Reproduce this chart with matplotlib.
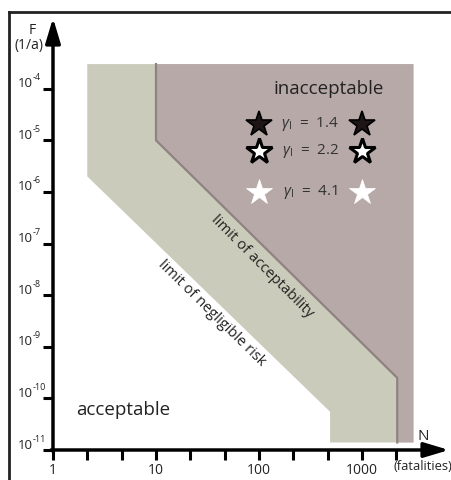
import numpy as np
import matplotlib
matplotlib.use("Agg")
import matplotlib.pyplot as plt
import matplotlib.transforms as mtransforms
from matplotlib.lines import Line2D

plt.rcParams['font.family'] = ['Open Sans', 'DejaVu Sans']
plt.rcParams['mathtext.fontset'] = 'custom'
plt.rcParams['mathtext.rm'] = 'Open Sans'
plt.rcParams['mathtext.it'] = 'Open Sans:italic'

# F-N diagram regions (N = fatalities, F = frequency per year)
band_N = [2.15, 2.15, 490, 490, 3160, 3160]
band_F = [3e-4, 2e-6, 5.5e-11, 1.4e-11, 1.4e-11, 3e-4]

unacc_N = [10, 10, 2200, 2200, 3160, 3160]
unacc_F = [3e-4, 1e-5, 2.5e-10, 1.4e-11, 1.4e-11, 3e-4]

limit_N = [10, 10, 2200, 2200]
limit_F = [3e-4, 1e-5, 2.5e-10, 1.4e-11]

# safety factor markers
gamma_vals = ["1.4", "2.2", "4.1"]
gamma_F = [2.1e-5, 6.2e-6, 1.0e-6]
star_N = [100, 1000]

x_ticks = [1, 10, 100, 1000]
y_exps = [-4, -5, -6, -7, -8, -9, -10, -11]

W, H = 452, 480
fig = plt.figure(figsize=(W / 100, H / 100), dpi=100)
ax = fig.add_axes([53 / W, 30 / H, 396 / W, 432 / H])
ax.set_xscale('log')
ax.set_yscale('log')
ax.set_xlim(1, 10 ** 3.845)
ax.set_ylim(1e-11, 10 ** -2.63)

green = '#cbcbbb'
mauve = '#b7a9a8'
ax.fill(band_N, band_F, color=green, lw=0, zorder=1)
ax.fill(unacc_N, unacc_F, color=mauve, lw=0, zorder=2)
ax.plot(limit_N, limit_F, color='#8e8381', lw=1.6, zorder=3)

styles = [dict(mfc='#1e1616', mec='black', mew=1.2),
          dict(mfc='white', mec='black', mew=2.2),
          dict(mfc='white', mec='white', mew=0.5)]
for g, f, st in zip(gamma_vals, gamma_F, styles):
    ax.plot(star_N, [f, f], ls='none', marker='*', ms=19, zorder=5, **st)
    ax.text(10 ** 2.5, f, r'$\gamma_\mathrm{I}$  =  ' + g, ha='center', va='center',
            fontsize=11, color='#333333', zorder=5)

ax.text(10 ** 2.68, 10 ** -4.0, 'inacceptable', ha='center', va='center',
        fontsize=13.5, color='#222222', zorder=5)
ax.text(10 ** 0.68, 10 ** -10.23, 'acceptable', ha='center', va='center',
        fontsize=13.5, color='#222222', zorder=5)
ax.text(10 ** 2.03, 10 ** -7.45, 'limit of acceptability', ha='center', va='center',
        rotation=-45, fontsize=10.6, color='#222222', zorder=5)
ax.text(10 ** 1.54, 10 ** -8.35, 'limit of negligible risk', ha='center', va='center',
        rotation=-44.5, fontsize=10.5, color='#222222', zorder=5)

# axes drawn as arrows
for s in ax.spines.values():
    s.set_visible(False)
ax.annotate('', xy=(1.0, 0), xytext=(-0.005, 0), xycoords='axes fraction',
            arrowprops=dict(arrowstyle='-|>,head_length=1.5,head_width=0.45',
                            lw=2.5, color='black', shrinkA=0, shrinkB=0),
            annotation_clip=False)
ax.annotate('', xy=(0, 1.0), xytext=(0, -0.003), xycoords='axes fraction',
            arrowprops=dict(arrowstyle='-|>,head_length=1.5,head_width=0.45',
                            lw=2.5, color='black', shrinkA=0, shrinkB=0),
            annotation_clip=False)

ax.set_xticks(x_ticks)
ax.set_xticklabels([str(t) for t in x_ticks])
ax.set_xticks([10 ** (k / 3) for k in range(11) if k % 3], minor=True)
ax.set_yticks([10.0 ** e for e in y_exps])
ax.set_yticklabels([])
ax.set_yticks([], minor=True)
ax.tick_params(axis='both', which='both', direction='out', length=7, width=2.2,
               color='black', labelcolor='#222222')
ax.tick_params(axis='x', pad=2, labelsize=10)

# y labels: "10" with a small raised exponent, left aligned
ytr = mtransforms.blended_transform_factory(fig.transFigure, ax.transData)
up_base = mtransforms.ScaledTranslation(0, 5 / 100, fig.dpi_scale_trans)
up_exp = mtransforms.ScaledTranslation(0, 11 / 100, fig.dpi_scale_trans)
for e in y_exps:
    ax.text(18 / W, 10.0 ** e, '10', transform=ytr + up_base, ha='left', va='center',
            fontsize=9.5, color='#222222')
    ax.text(33 / W, 10.0 ** e, '-%d' % -e, transform=ytr + up_exp, ha='left', va='center',
            fontsize=6.5, color='#222222')

fig.text(32 / W, 1 - 30 / H, 'F', ha='center', va='center', fontsize=10, color='#222222')
fig.text(29 / W, 1 - 45 / H, '(1/a)', ha='center', va='center', fontsize=10, color='#222222')
fig.text(423 / W, 1 - 437 / H, 'N', ha='center', va='center', fontsize=11, color='#222222')
fig.text(452 / W, 1 - 467 / H, '(fatalities)', ha='right', va='center', fontsize=9.3,
         color='#222222')

# outer frame
fig.add_artist(Line2D([9 / W, 1.0], [1 - 12 / H, 1 - 12 / H], color='#222222', lw=2))
fig.add_artist(Line2D([9 / W, 9 / W], [0, 1 - 12 / H], color='#222222', lw=2))

fig.savefig('out.png', dpi=100)
